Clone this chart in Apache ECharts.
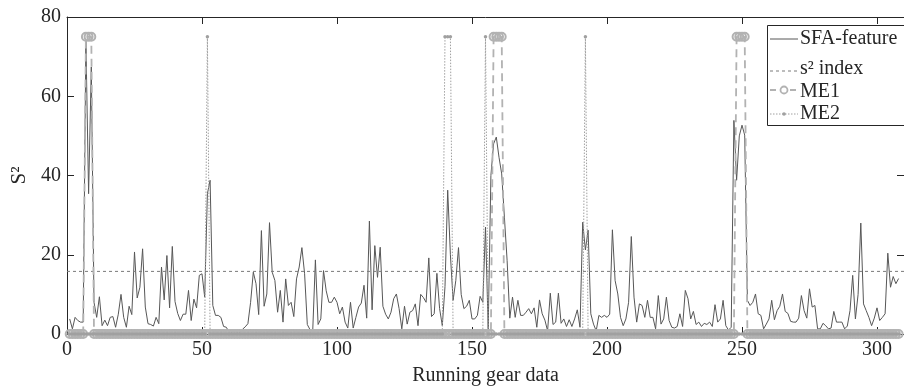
<!DOCTYPE html>
<html>
<head>
<meta charset="utf-8">
<script src="https://cdn.jsdelivr.net/npm/echarts/dist/echarts.min.js"></script>
<style>html,body{margin:0;padding:0;background:#fff}#c{width:904px;height:392px}</style>
</head>
<body>
<div id="c"></div>
<script>
// ---- axis ranges / ticks ----
const xMin = 0, xMax = 310, xStep = 50;
const yMin = 0, yMax = 80, yStep = 20;
const xTitle = 'Running gear data';
const yTitle = 'S²';
const legendNames = ['SFA-feature', 's² index', 'ME1', 'ME2'];

// ---- SFA feature, sample 1..308 ----
const sfaFeature = [
  3.8, 1.3, 4.2, 3.4, 3.0, 3.0, 74, 35.4, 67.4, 8,
  4.2, 9.4, 2.1, 3.5, 2.1, 4.2, 4.4, 1.7, 5, 10,
  4.2, 1.7, 7, 4.9, 20.7, 9.1, 11.8, 21.5, 6.8, 2.6,
  2.4, 2.0, 4.2, 2.6, 16.9, 8.6, 19.8, 6.6, 22.1, 8.2,
  5.2, 3.4, 5.0, 5.0, 11, 3.4, 8.8, 6.6, 14.8, 15.2,
  9.3, 35.4, 38.8, 7.2, 4.7, 4.7, 4.2, 1.9, 1.7, 0.5,
  0.3, 0.2, 0.4, 0.3, 1.2, 1.8, 2.6, 8, 15.6, 12.7,
  4.9, 26.1, 7, 10.1, 28.1, 15.6, 13.5, 5.5, 11, 3,
  13.9, 7.2, 8, 4.4, 13.9, 16.9, 21.8, 15.2, 2.4, 1.1,
  0.6, 18.7, 2.4, 3.8, 16, 10.9, 8, 8, 9.3, 8,
  5.1, 6.8, 3, 1.5, 8, 1.5, 4.2, 6.8, 7.8, 12.3,
  4, 28.5, 6.1, 22.3, 14.3, 21.9, 7, 5, 3.8, 5.5,
  8.9, 10.1, 6.4, 1.3, 7, 2.5, 5.5, 5.9, 7.6, 2.1,
  10, 9.2, 8, 19.2, 4.4, 5.1, 15.3, 6.4, 2.1, 12,
  36.3, 20, 8.5, 13.5, 21.8, 10, 6.4, 7, 8.5, 3.8,
  3.8, 4.7, 9.5, 8, 27, 1.3, 40, 48, 49.7, 44.6,
  40.4, 29.5, 18.6, 4, 9.3, 4.2, 8.5, 4.7, 4.7, 5.5,
  6.4, 5.1, 6.6, 1.7, 8.6, 5.1, 3.5, 0.8, 10.3, 2.4,
  3, 10.3, 2.7, 3.8, 1.9, 3.6, 1.9, 3.8, 6.1, 1.7,
  28.2, 21.2, 26.2, 5.1, 2.5, 0.8, 4.7, 4.2, 4.7, 4.2,
  5, 26.3, 13.5, 10.1, 4.2, 2.1, 3.8, 8, 24.6, 9.3,
  3, 7.6, 7.2, 4.2, 8.5, 4.2, 4.2, 1.3, 9.7, 2.5,
  3.8, 9.3, 3.4, 1.7, 1.5, 1.9, 5.1, 1.9, 11, 8.9,
  3.8, 5.7, 2.4, 3, 1.9, 2.7, 2.4, 3, 1.9, 7.4,
  3, 3.8, 8.5, 2.1, 1.0, 1.7, 53.9, 38.8, 50, 52.7,
  50.2, 8.5, 7.2, 8, 10.1, 5.1, 4.7, 1.3, 2.5, 3.8,
  8.5, 3.6, 5.9, 7, 10.1, 5.7, 5.2, 3.2, 3, 3,
  4, 9.7, 5.9, 4, 11.4, 6.8, 7.2, 1.3, 1.3, 2.7,
  2.1, 1.3, 1.5, 5.7, 3, 3, 3, 1.3, 2, 5.9,
  14.8, 3.8, 10, 28, 7.6, 5.9, 4.2, 2.1, 4, 6.6,
  3.4, 4.2, 5.1, 20.4, 11.8, 14.5, 12.7, 14
];

// ---- s^2 control limit ----
const s2Index = 15.8;

// ---- ME1 alarm indicator, sample 1..308 ----
const me1 = [
  0,0,0,0,0,0,75,75,75,0, 0,0,0,0,0,0,0,0,0,0,
  0,0,0,0,0,0,0,0,0,0, 0,0,0,0,0,0,0,0,0,0,
  0,0,0,0,0,0,0,0,0,0, 0,0,0,0,0,0,0,0,0,0,
  0,0,0,0,0,0,0,0,0,0, 0,0,0,0,0,0,0,0,0,0,
  0,0,0,0,0,0,0,0,0,0, 0,0,0,0,0,0,0,0,0,0,
  0,0,0,0,0,0,0,0,0,0, 0,0,0,0,0,0,0,0,0,0,
  0,0,0,0,0,0,0,0,0,0, 0,0,0,0,0,0,0,0,0,0,
  0,0,0,0,0,0,0,0,0,0, 0,0,0,0,0,0,0,75,75,75,
  75,0,0,0,0,0,0,0,0,0, 0,0,0,0,0,0,0,0,0,0,
  0,0,0,0,0,0,0,0,0,0, 0,0,0,0,0,0,0,0,0,0,
  0,0,0,0,0,0,0,0,0,0, 0,0,0,0,0,0,0,0,0,0,
  0,0,0,0,0,0,0,0,0,0, 0,0,0,0,0,0,0,0,0,0,
  0,0,0,0,0,0,0,75,75,75, 75,0,0,0,0,0,0,0,0,0,
  0,0,0,0,0,0,0,0,0,0, 0,0,0,0,0,0,0,0,0,0,
  0,0,0,0,0,0,0,0,0,0, 0,0,0,0,0,0,0,0,0,0,
  0,0,0,0,0,0,0,0
];

// ---- ME2 alarm indicator, sample 1..308 ----
const me2 = [
  0,0,0,0,0,0,0,0,0,0, 0,0,0,0,0,0,0,0,0,0,
  0,0,0,0,0,0,0,0,0,0, 0,0,0,0,0,0,0,0,0,0,
  0,0,0,0,0,0,0,0,0,0, 0,75,0,0,0,0,0,0,0,0,
  0,0,0,0,0,0,0,0,0,0, 0,0,0,0,0,0,0,0,0,0,
  0,0,0,0,0,0,0,0,0,0, 0,0,0,0,0,0,0,0,0,0,
  0,0,0,0,0,0,0,0,0,0, 0,0,0,0,0,0,0,0,0,0,
  0,0,0,0,0,0,0,0,0,0, 0,0,0,0,0,0,0,0,0,75,
  75,75,0,0,0,0,0,0,0,0, 0,0,0,0,75,0,0,0,0,0,
  0,0,0,0,0,0,0,0,0,0, 0,0,0,0,0,0,0,0,0,0,
  0,0,0,0,0,0,0,0,0,0, 0,75,0,0,0,0,0,0,0,0,
  0,0,0,0,0,0,0,0,0,0, 0,0,0,0,0,0,0,0,0,0,
  0,0,0,0,0,0,0,0,0,0, 0,0,0,0,0,0,0,0,0,0,
  0,0,0,0,0,0,0,0,0,0, 0,0,0,0,0,0,0,0,0,0,
  0,0,0,0,0,0,0,0,0,0, 0,0,0,0,0,0,0,0,0,0,
  0,0,0,0,0,0,0,0,0,0, 0,0,0,0,0,0,0,0,0,0,
  0,0,0,0,0,0,0,0
];

// ---- styles ----
const FONT = '"Liberation Serif", "Times New Roman", serif';
const FS = 20;
const AX = '#262626';
const cSFA = '#575757', cS2 = '#7a7a7a', cME1 = '#b2b2b2', cME2 = '#a0a0a0';
const withIndex = arr => arr.map((v, i) => [i + 1, v]);

const chart = echarts.init(document.getElementById('c'), null, {renderer: 'canvas'});

const baseX = {
  type: 'value', min: xMin, max: xMax, interval: xStep,
  splitLine: {show: false},
  axisLine: {show: true, onZero: false, lineStyle: {color: AX, width: 1}},
  axisTick: {show: true, inside: true, length: 7, lineStyle: {color: AX}}
};
const baseY = {
  type: 'value', min: yMin, max: yMax, interval: yStep,
  splitLine: {show: false},
  axisLine: {show: true, onZero: false, lineStyle: {color: AX, width: 1}},
  axisTick: {show: true, inside: true, length: 7, lineStyle: {color: AX}}
};

const legY = [39, 69, 92, 114];
const legTextX = 800, legL1 = 770, legL2 = 798, legSymX = 784;

chart.setOption({
  animation: false,
  backgroundColor: '#fff',
  grid: {left: 67, right: -6, top: 17, bottom: 58, containLabel: false},
  xAxis: [
    Object.assign({}, baseX, {
      position: 'bottom',
      axisLabel: {fontFamily: FONT, fontSize: FS, color: AX, margin: 6, showMaxLabel: false},
      name: xTitle, nameLocation: 'middle', nameGap: 32,
      nameTextStyle: {fontFamily: FONT, fontSize: FS, color: AX}
    }),
    Object.assign({}, baseX, {position: 'top', axisLabel: {show: false}})
  ],
  yAxis: [
    Object.assign({}, baseY, {
      position: 'left',
      axisLabel: {fontFamily: FONT, fontSize: FS, color: AX, margin: 6},
      name: yTitle, nameLocation: 'middle', nameGap: 34, nameRotate: 90,
      nameTextStyle: {fontFamily: FONT, fontSize: FS + 1, color: AX}
    }),
    Object.assign({}, baseY, {position: 'right', axisLabel: {show: false}})
  ],
  series: [
    {
      name: legendNames[0], type: 'line', xAxisIndex: 0, yAxisIndex: 0,
      data: withIndex(sfaFeature), showSymbol: false, clip: true,
      lineStyle: {color: cSFA, width: 1}, itemStyle: {color: cSFA}
    },
    {
      name: legendNames[1], type: 'line',
      data: [[xMin, s2Index], [xMax, s2Index]], showSymbol: false,
      lineStyle: {color: cS2, width: 1, type: [3, 3]}, itemStyle: {color: cS2}
    },
    {
      name: legendNames[2], type: 'line', data: withIndex(me1),
      symbol: 'circle', symbolSize: 8, showSymbol: true, clip: true,
      lineStyle: {color: cME1, width: 1.8, type: [8, 5]},
      itemStyle: {color: 'rgba(0,0,0,0)', borderColor: cME1, borderWidth: 2}
    },
    {
      name: legendNames[3], type: 'line', data: withIndex(me2),
      symbol: 'circle', symbolSize: 3.5, showSymbol: true, clip: true,
      lineStyle: {color: cME2, width: 1, type: [1.5, 1.5]},
      itemStyle: {color: cME2}
    }
  ],
  graphic: [
    {type: 'rect', z: 100, shape: {x: 767.5, y: 25.5, width: 160, height: 100},
     style: {fill: '#fff', stroke: AX, lineWidth: 1}},
    {type: 'line', z: 101, shape: {x1: legL1, y1: legY[0], x2: legL2, y2: legY[0]},
     style: {stroke: cSFA, lineWidth: 1}},
    {type: 'line', z: 101, shape: {x1: legL1, y1: legY[1] + 2, x2: legL2, y2: legY[1] + 2},
     style: {stroke: cS2, lineWidth: 1, lineDash: [3, 3]}},
    {type: 'line', z: 101, shape: {x1: legL1, y1: legY[2] - 2, x2: legL2, y2: legY[2] - 2},
     style: {stroke: cME1, lineWidth: 1.8, lineDash: [6, 4]}},
    {type: 'circle', z: 102, shape: {cx: legSymX, cy: legY[2] - 2, r: 3.5},
     style: {fill: '#fff', stroke: cME1, lineWidth: 1.8}},
    {type: 'line', z: 101, shape: {x1: legL1, y1: legY[3], x2: legL2, y2: legY[3]},
     style: {stroke: cME2, lineWidth: 1, lineDash: [1.5, 1.5]}},
    {type: 'circle', z: 102, shape: {cx: legSymX, cy: legY[3], r: 1.8},
     style: {fill: cME2}},
    ...legendNames.map((t, k) => ({
      type: 'text', z: 102, x: legTextX, y: legY[k],
      style: {text: t, font: FS + 'px ' + FONT, fill: AX, verticalAlign: 'middle', align: 'left'}
    }))
  ]
});
</script>
</body>
</html>
